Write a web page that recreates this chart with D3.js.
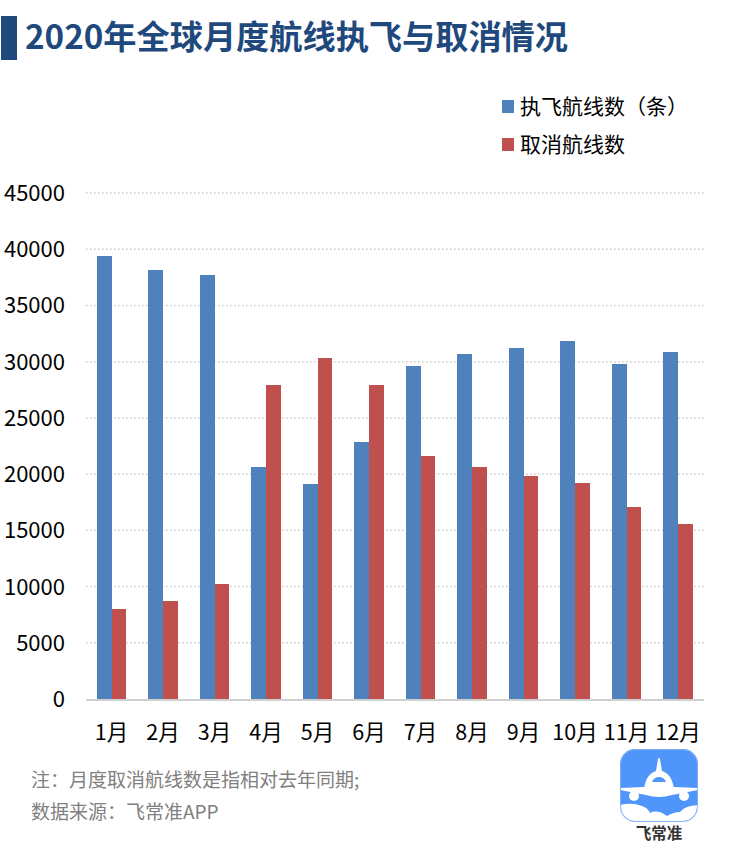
<!DOCTYPE html>
<html>
<head>
    <meta charset="utf-8">
    <title>2020年全球月度航线执飞与取消情况</title>
    <style>
        html, body { margin: 0; padding: 0; background: #fff; }
        svg { display: block; }
        text { font-family: "Noto Sans CJK SC", "Noto Sans", sans-serif; }
        .y-label { font-size: 22px; fill: #000; }
        .x-label { font-size: 21.5px; fill: #000; }
        .legend-label { font-size: 21px; fill: #000; }
        .grid line { stroke: #c8c8c8; stroke-width: 1.5px; stroke-dasharray: 1.5 2.5; }
        .note { font-size: 19px; fill: #808080; }
    </style>
</head>
<body>
    <script src="https://d3js.org/d3.v7.min.js"></script>
    <script>
        const months = ["1月", "2月", "3月", "4月", "5月", "6月", "7月", "8月", "9月", "10月", "11月", "12月"];
        const flown = [39400, 38150, 37700, 20650, 19100, 22850, 29600, 30700, 31200, 31800, 29800, 30850];
        const cancelled = [8000, 8700, 10200, 27900, 30300, 27900, 21600, 20650, 19800, 19250, 17100, 15600];
        const yTicks = [0, 5000, 10000, 15000, 20000, 25000, 30000, 35000, 40000, 45000];
        const seriesNames = ["执飞航线数（条）", "取消航线数"];
        const seriesColors = ["#4f81bd", "#c0504d"];
        const title = "2020年全球月度航线执飞与取消情况";
        const notes = ["注：月度取消航线数是指相对去年同期;", "数据来源：飞常准APP"];

        const width = 745;
        const height = 851;

        const svg = d3.select("body").append("svg")
            .attr("width", width)
            .attr("height", height);

        // title block
        svg.append("rect")
            .attr("x", 1).attr("y", 16)
            .attr("width", 16).attr("height", 44)
            .attr("fill", "#1f497d");
        svg.append("text")
            .attr("x", 25).attr("y", 49)
            .attr("font-size", "33.2px")
            .attr("font-weight", 700)
            .attr("fill", "#1f497d")
            .text(title);

        const x = d3.scaleBand()
            .domain(months)
            .range([85.8, 703.8]);
        const groupWidth = x.bandwidth() * 0.57;
        const x1 = d3.scaleBand()
            .domain([0, 1])
            .range([0, groupWidth]);
        const groupOffset = (x.bandwidth() - groupWidth) / 2;

        const y = d3.scaleLinear()
            .domain([0, 45000])
            .range([699, 193]);

        // gridlines
        svg.append("g")
            .attr("class", "grid")
            .selectAll("line")
            .data(yTicks.filter(d => d > 0))
            .enter().append("line")
            .attr("x1", 86)
            .attr("x2", 704)
            .attr("y1", d => y(d))
            .attr("y2", d => y(d));

        // bars
        [flown, cancelled].forEach(function(values, i) {
            svg.append("g")
                .attr("shape-rendering", "crispEdges")
                .selectAll("rect")
                .data(values)
                .enter().append("rect")
                .attr("x", (d, j) => x(months[j]) + groupOffset + x1(i))
                .attr("y", d => y(d))
                .attr("width", x1.bandwidth())
                .attr("height", d => y(0) - y(d))
                .attr("fill", seriesColors[i]);
        });

        // baseline
        svg.append("line")
            .attr("x1", 86).attr("x2", 704)
            .attr("y1", 700).attr("y2", 700)
            .attr("stroke", "#d0d0d0")
            .attr("stroke-width", 2);

        // y axis labels
        svg.append("g")
            .selectAll("text")
            .data(yTicks)
            .enter().append("text")
            .attr("class", "y-label")
            .attr("x", 65)
            .attr("y", d => y(d) + 8)
            .attr("text-anchor", "end")
            .text(d => d);

        // x axis labels
        svg.append("g")
            .selectAll("text")
            .data(months)
            .enter().append("text")
            .attr("class", "x-label")
            .attr("x", d => x(d) + x.bandwidth() / 2)
            .attr("y", 740)
            .attr("text-anchor", "middle")
            .text(d => d);

        // legend
        const legend = svg.append("g")
            .selectAll("g")
            .data(seriesNames)
            .enter().append("g")
            .attr("transform", (d, i) => `translate(502,${100 + i * 38})`);
        legend.append("rect")
            .attr("width", 12)
            .attr("height", 13)
            .attr("fill", (d, i) => seriesColors[i]);
        legend.append("text")
            .attr("class", "legend-label")
            .attr("x", 18)
            .attr("y", 14)
            .text(d => d);

        // notes
        svg.append("g")
            .selectAll("text")
            .data(notes)
            .enter().append("text")
            .attr("class", "note")
            .attr("x", 31)
            .attr("y", (d, i) => 787 + i * 32)
            .text(d => d);

        // app logo
        const logo = svg.append("g").attr("transform", "translate(620,749)");
        const clip = svg.append("clipPath").attr("id", "logo-clip");
        clip.append("rect").attr("width", 78).attr("height", 73).attr("rx", 15);
        const inner = logo.append("g").attr("clip-path", "url(#logo-clip)");
        inner.append("rect").attr("width", 78).attr("height", 73).attr("fill", "#5096fa");
        // wing
        inner.append("path").attr("fill", "#fff")
            .attr("d", "M0 39 L24 38 L54 38 L78 39 L78 41 L52 46 Q39 50 26 46 L0 41 Z");
        // fuselage and tail
        inner.append("path").attr("fill", "#fff")
            .attr("d", "M38 10 Q39 8 40 10 L42 22 Q52 25 54 40 L24 40 Q26 25 36 22 Z");
        inner.append("path").attr("fill", "#5096fa")
            .attr("d", "M32 33 Q34 28 39 28 Q44 28 46 33 Z");
        // engines
        inner.append("circle").attr("cx", 14).attr("cy", 47).attr("r", 5).attr("fill", "#fff");
        inner.append("circle").attr("cx", 64).attr("cy", 47).attr("r", 5).attr("fill", "#fff");
        // clouds
        inner.append("path").attr("fill", "#fff")
            .attr("d", "M0 56 Q12 53 22 57 Q28 59 30 64 Q37 60 47 67 Q54 63 60 63 Q64 57 78 56 L78 73 L0 73 Z");
        // thin edge around the bottom of the icon
        logo.append("rect").attr("x", 0.5).attr("y", 0.5)
            .attr("width", 77).attr("height", 72).attr("rx", 15)
            .attr("fill", "none").attr("stroke", "#7db0fb");
        logo.append("text")
            .attr("x", 39).attr("y", 90)
            .attr("text-anchor", "middle")
            .attr("font-size", "15.5px")
            .attr("font-weight", 700)
            .attr("fill", "#333")
            .text("飞常准");
    </script>
</body>
</html>
